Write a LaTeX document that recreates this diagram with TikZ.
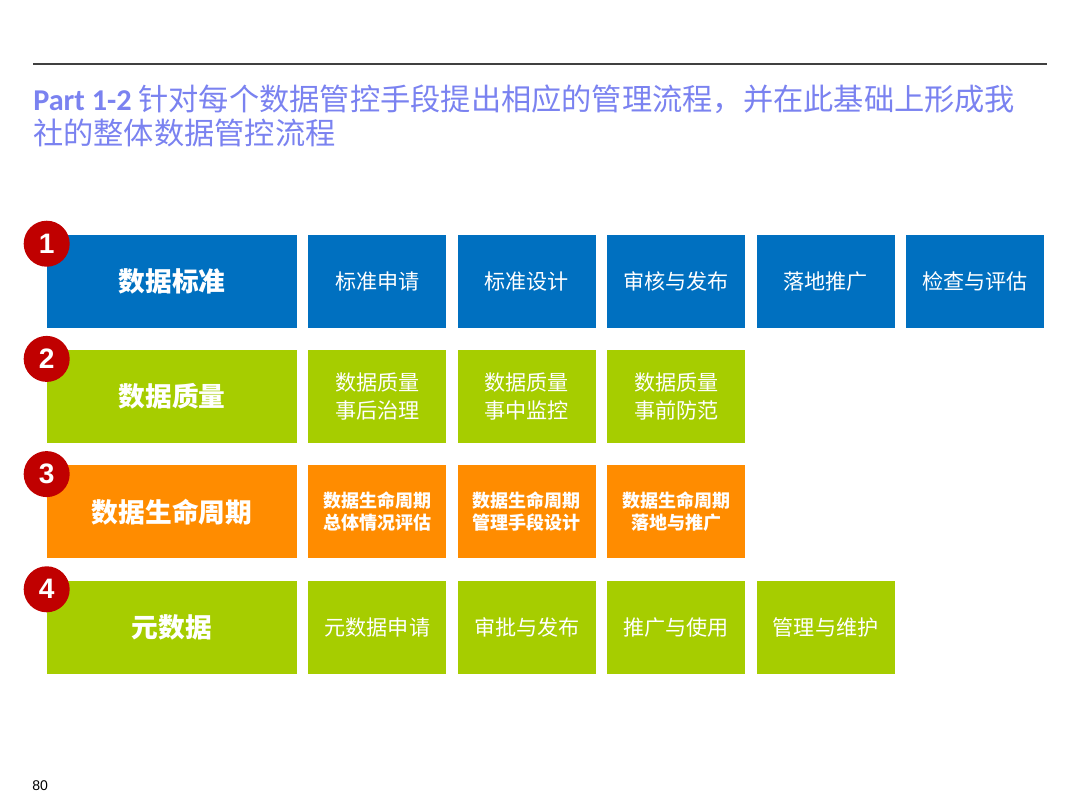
\documentclass[tikz,border=0pt]{standalone}
\usepackage{fontspec}
\usepackage{tikz}
\usetikzlibrary{positioning}
\newfontfamily\cjk{Noto Sans CJK SC}
\newfontfamily\carlito{Carlito}
\newfontfamily\arialfont{Liberation Sans}
\definecolor{StdBlue}{RGB}{0,112,192}
\definecolor{QualGreen}{RGB}{166,205,0}
\definecolor{LifeOrange}{RGB}{255,140,0}
\definecolor{BadgeRed}{RGB}{192,0,0}
\definecolor{TitleBlue}{RGB}{122,130,240}
\definecolor{RuleGray}{RGB}{64,64,64}

\begin{document}
\begin{tikzpicture}[
  x=0.025cm, y=-0.025cm,
  node distance=0.54cm and 0.27cm,
  mainbox/.style={fill=#1, text=white, minimum width=6.25cm, minimum height=2.325cm, inner sep=0pt, font=\cjk\bfseries\fontsize{19}{23}\selectfont},
  subbox/.style={fill=#1, text=white, minimum width=3.45cm, minimum height=2.325cm, inner sep=0pt, align=center, font=\cjk\fontsize{15}{20}\selectfont},
  lifebox/.style={subbox=LifeOrange, font=\cjk\bfseries\fontsize{12.8}{15.6}\selectfont},
  badge/.style={circle, fill=BadgeRed, text=white, minimum size=1.15cm, inner sep=0pt, font=\arialfont\bfseries\fontsize{20}{24}\selectfont}
]
\useasboundingbox (0,0) rectangle (1080,810);

% header
\coordinate (ruleL) at (33,64);
\coordinate (ruleR) at (1047,64);
\draw[line width=1.4pt, RuleGray] (ruleL) -- (ruleR);
\node[anchor=north west, inner sep=0pt, align=left, text=TitleBlue, font=\cjk\fontsize{21.5}{23.6}\selectfont] (title) at (33,85)
  {{\carlito\bfseries Part 1-2} 针对每个数据管控手段提出相应的管理流程，并在此基础上形成我\\社的整体数据管控流程};

% row 1
\node[mainbox=StdBlue] (m1) at (172,281.5) {数据标准};
\node[subbox=StdBlue, right=of m1] (s11) {标准申请};
\node[subbox=StdBlue, right=of s11] (s12) {标准设计};
\node[subbox=StdBlue, right=of s12] (s13) {审核与发布};
\node[subbox=StdBlue, right=of s13] (s14) {落地推广};
\node[subbox=StdBlue, right=of s14] (s15) {检查与评估};

% row 2
\node[mainbox=QualGreen, below=of m1] (m2) {数据质量};
\node[subbox=QualGreen, right=of m2] (s21) {数据质量\\事后治理};
\node[subbox=QualGreen, right=of s21] (s22) {数据质量\\事中监控};
\node[subbox=QualGreen, right=of s22] (s23) {数据质量\\事前防范};

% row 3
\node[mainbox=LifeOrange, below=of m2] (m3) {数据生命周期};
\node[lifebox, right=of m3] (s31) {数据生命周期\\总体情况评估};
\node[lifebox, right=of s31] (s32) {数据生命周期\\管理手段设计};
\node[lifebox, right=of s32] (s33) {数据生命周期\\落地与推广};

% row 4
\node[mainbox=QualGreen, below=of m3] (m4) {元数据};
\node[subbox=QualGreen, right=of m4] (s41) {元数据申请};
\node[subbox=QualGreen, right=of s41] (s42) {审批与发布};
\node[subbox=QualGreen, right=of s42] (s43) {推广与使用};
\node[subbox=QualGreen, right=of s43] (s44) {管理与维护};

% badges
\foreach \i in {1,...,4}
  \node[badge] (b\i) at ([yshift=-0.225cm]m\i.north west) {\i};

\node[anchor=base west, inner sep=0pt, font=\arialfont\fontsize{10}{12}\selectfont] (page) at (32,790) {80};
\end{tikzpicture}
\end{document}
